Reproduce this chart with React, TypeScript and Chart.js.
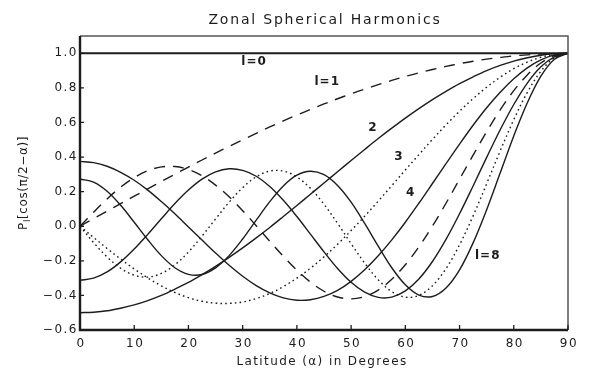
import { useEffect, useRef } from 'react';
import { Chart, registerables } from 'chart.js';

Chart.register(...registerables);

// Latitude samples (degrees)
const ALPHA = [0, 2.5, 5, 7.5, 10, 12.5, 15, 17.5, 20, 22.5, 25, 27.5, 30, 32.5, 35, 37.5, 40, 42.5, 45, 47.5, 50, 52.5, 55, 57.5, 60, 62.5, 65, 67.5, 70, 72.5, 75, 77.5, 80, 82.5, 85, 87.5, 90];

// l = 0 is flat, so two end points are enough
const ALPHA_L0 = [0, 90];
const P0 = [1, 1];

const P1 = [0, 0.044, 0.087, 0.131, 0.174, 0.216, 0.259, 0.301, 0.342, 0.383, 0.423, 0.462, 0.5, 0.537, 0.574, 0.609, 0.643, 0.676, 0.707, 0.737, 0.766, 0.793, 0.819, 0.843, 0.866, 0.887, 0.906, 0.924, 0.94, 0.954, 0.966, 0.976, 0.985, 0.991, 0.996, 0.999, 1];
const P2 = [-0.5, -0.497, -0.489, -0.474, -0.455, -0.43, -0.4, -0.364, -0.325, -0.28, -0.232, -0.18, -0.125, -0.067, -0.007, 0.056, 0.12, 0.185, 0.25, 0.315, 0.38, 0.444, 0.507, 0.567, 0.625, 0.68, 0.732, 0.78, 0.825, 0.864, 0.9, 0.93, 0.955, 0.974, 0.989, 0.997, 1];
const P3 = [0, -0.065, -0.129, -0.19, -0.247, -0.299, -0.345, -0.383, -0.413, -0.434, -0.445, -0.446, -0.438, -0.418, -0.389, -0.349, -0.3, -0.243, -0.177, -0.104, -0.025, 0.058, 0.145, 0.235, 0.325, 0.414, 0.502, 0.586, 0.665, 0.738, 0.804, 0.862, 0.911, 0.949, 0.977, 0.994, 1];
const P4 = [0.375, 0.368, 0.347, 0.312, 0.266, 0.209, 0.143, 0.072, -0.004, -0.08, -0.155, -0.226, -0.289, -0.343, -0.385, -0.414, -0.428, -0.425, -0.406, -0.371, -0.319, -0.252, -0.171, -0.079, 0.023, 0.133, 0.247, 0.362, 0.475, 0.584, 0.685, 0.775, 0.853, 0.916, 0.962, 0.991, 1];
const P5 = [0, 0.081, 0.158, 0.226, 0.281, 0.321, 0.343, 0.345, 0.328, 0.292, 0.238, 0.17, 0.09, 0.003, -0.087, -0.174, -0.254, -0.323, -0.376, -0.409, -0.42, -0.407, -0.369, -0.307, -0.223, -0.119, 0.001, 0.133, 0.272, 0.411, 0.547, 0.673, 0.784, 0.875, 0.944, 0.986, 1];
const P6 = [-0.3125, -0.3, -0.264, -0.206, -0.132, -0.047, 0.043, 0.131, 0.209, 0.272, 0.314, 0.332, 0.323, 0.289, 0.23, 0.15, 0.056, -0.046, -0.148, -0.244, -0.324, -0.381, -0.411, -0.41, -0.374, -0.305, -0.204, -0.076, 0.072, 0.233, 0.398, 0.558, 0.704, 0.828, 0.922, 0.98, 1];
const P7 = [0, -0.094, -0.178, -0.243, -0.283, -0.294, -0.273, -0.223, -0.149, -0.057, 0.042, 0.139, 0.223, 0.286, 0.319, 0.319, 0.285, 0.219, 0.127, 0.017, -0.101, -0.213, -0.31, -0.378, -0.41, -0.4, -0.344, -0.245, -0.107, 0.06, 0.246, 0.436, 0.616, 0.774, 0.896, 0.974, 1];
const P8 = [0.273, 0.255, 0.202, 0.121, 0.023, -0.078, -0.17, -0.24, -0.278, -0.279, -0.241, -0.17, -0.074, 0.035, 0.142, 0.233, 0.295, 0.318, 0.298, 0.236, 0.139, 0.016, -0.115, -0.24, -0.339, -0.398, -0.406, -0.357, -0.252, -0.096, 0.096, 0.309, 0.522, 0.714, 0.868, 0.966, 1];

const X_TICKS = [0, 10, 20, 30, 40, 50, 60, 70, 80, 90];
const Y_TICKS = [-0.6, -0.4, -0.2, 0, 0.2, 0.4, 0.6, 0.8, 1.0];

// Curve labels placed in data coordinates (latitude, value)
const LABEL_TEXT = ['l=0', 'l=1', '2', '3', '4', 'l=8'];
const LABEL_ALPHA = [32.1, 45.6, 54.0, 58.8, 61.0, 75.2];
const LABEL_VALUE = [0.948, 0.832, 0.571, 0.403, 0.194, -0.171];

const TITLE = 'Zonal Spherical Harmonics';
const X_TITLE = 'Latitude (\u03b1) in Degrees';

const INK = '#1c1c1c';
const FONT = '"DejaVu Sans", "Liberation Sans", sans-serif';

const toPoints = (xs: number[], ys: number[]) => xs.map((x, i) => ({ x, y: ys[i] }));

type Style = 'solid' | 'dashed' | 'dotted';

const dashFor = (style: Style): number[] => {
  if (style === 'dashed') return [11, 8];
  if (style === 'dotted') return [1.6, 3.2];
  return [];
};

const curve = (xs: number[], ys: number[], style: Style, width = 1.4) => ({
  data: toPoints(xs, ys),
  borderColor: INK,
  borderWidth: width,
  borderDash: dashFor(style),
  pointRadius: 0,
  tension: 0.35,
});

const yLabel = (v: number) => (v < 0 ? '\u2212' : '') + Math.abs(v).toFixed(1);

function text(ctx: CanvasRenderingContext2D, s: string, x: number, y: number, font: string, spacing: string, align: CanvasTextAlign = 'center') {
  ctx.font = font;
  (ctx as any).letterSpacing = spacing;
  ctx.textAlign = align;
  ctx.textBaseline = 'middle';
  ctx.fillText(s, x, y);
}

const decorations = {
  id: 'decorations',
  afterDraw(chart: any) {
    const { ctx, chartArea: a, scales } = chart;
    const xs = scales.x;
    const ys = scales.y;
    ctx.save();
    ctx.lineCap = 'butt';
    ctx.setLineDash([]);

    // thin top/right border
    ctx.strokeStyle = '#555';
    ctx.lineWidth = 1.5;
    ctx.beginPath();
    ctx.moveTo(a.left, a.top);
    ctx.lineTo(a.right, a.top);
    ctx.lineTo(a.right, a.bottom);
    ctx.stroke();

    // heavy left/bottom axes
    ctx.strokeStyle = INK;
    ctx.lineWidth = 2.4;
    ctx.beginPath();
    ctx.moveTo(a.left, a.top);
    ctx.lineTo(a.left, a.bottom);
    ctx.lineTo(a.right, a.bottom);
    ctx.stroke();

    // inward ticks
    ctx.lineWidth = 1.3;
    ctx.beginPath();
    X_TICKS.forEach((v) => {
      const px = xs.getPixelForValue(v);
      ctx.moveTo(px, a.bottom);
      ctx.lineTo(px, a.bottom - 5);
    });
    Y_TICKS.forEach((v) => {
      const py = ys.getPixelForValue(v);
      ctx.moveTo(a.left, py);
      ctx.lineTo(a.left + 4, py);
    });
    ctx.stroke();

    ctx.fillStyle = INK;

    // tick labels
    const tickFont = `12px ${FONT}`;
    X_TICKS.forEach((v) => {
      text(ctx, String(v), xs.getPixelForValue(v) + 1, a.bottom + 14, tickFont, '1.5px');
    });
    Y_TICKS.forEach((v) => {
      text(ctx, yLabel(v), a.left - 2, ys.getPixelForValue(v), tickFont, '1.5px', 'right');
    });

    // title
    text(ctx, TITLE, (a.left + a.right) / 2 + 1, 20, `14px ${FONT}`, '1.8px');
    // x axis title
    text(ctx, X_TITLE, (a.left + a.right) / 2 - 2, 362, `12px ${FONT}`, '1.4px');

    // y axis title, rotated
    ctx.save();
    ctx.translate(24, 183);
    ctx.rotate(-Math.PI / 2);
    const big = `12px ${FONT}`;
    const small = `9px ${FONT}`;
    const sp = '0.6px';
    (ctx as any).letterSpacing = sp;
    ctx.font = big;
    const wP = ctx.measureText('P').width;
    ctx.font = small;
    const wl = ctx.measureText('l').width;
    ctx.font = big;
    const rest = '[cos(\u03c0/2\u2212\u03b1)]';
    const wr = ctx.measureText(rest).width;
    let cx = -(wP + wl + wr) / 2;
    text(ctx, 'P', cx, 0, big, sp, 'left');
    cx += wP;
    text(ctx, 'l', cx, 4, small, sp, 'left');
    cx += wl;
    text(ctx, rest, cx, 0, big, sp, 'left');
    ctx.restore();

    // curve labels
    LABEL_TEXT.forEach((s, i) => {
      const px = xs.getPixelForValue(LABEL_ALPHA[i]);
      const py = ys.getPixelForValue(LABEL_VALUE[i]);
      text(ctx, s, px, py, `bold 12px ${FONT}`, '1px');
    });

    (ctx as any).letterSpacing = '0px';
    ctx.restore();
  },
};

export default function App() {
  const ref = useRef<HTMLCanvasElement | null>(null);

  useEffect(() => {
    document.body.style.margin = '0';
    const canvas = ref.current;
    if (!canvas) return;

    const chart = new Chart(canvas, {
      type: 'line',
      data: {
        datasets: [
          curve(ALPHA_L0, P0, 'solid', 2),
          curve(ALPHA, P1, 'dashed'),
          curve(ALPHA, P2, 'solid'),
          curve(ALPHA, P3, 'dotted'),
          curve(ALPHA, P4, 'solid'),
          curve(ALPHA, P5, 'dashed'),
          curve(ALPHA, P6, 'solid'),
          curve(ALPHA, P7, 'dotted'),
          curve(ALPHA, P8, 'solid'),
        ] as any,
      },
      options: {
        responsive: false,
        animation: false,
        devicePixelRatio: 1,
        layout: { padding: { top: 36, right: 21, left: 0, bottom: 0 } },
        plugins: {
          legend: { display: false },
          tooltip: { enabled: false },
          title: { display: false },
        },
        scales: {
          x: {
            type: 'linear',
            min: 0,
            max: 90,
            grid: { display: false, drawTicks: false },
            border: { display: false },
            ticks: { display: false },
            afterFit: (s: any) => {
              s.height = 43;
            },
            afterBuildTicks: (s: any) => {
              s.ticks = X_TICKS.map((v) => ({ value: v }));
            },
          },
          y: {
            type: 'linear',
            min: -0.6,
            max: 1.1,
            grid: { display: false, drawTicks: false },
            border: { display: false },
            ticks: { display: false },
            afterFit: (s: any) => {
              s.width = 80;
            },
            afterBuildTicks: (s: any) => {
              s.ticks = Y_TICKS.map((v) => ({ value: v }));
            },
          },
        },
      },
      plugins: [decorations],
    });

    return () => chart.destroy();
  }, []);

  return (
    <div style={{ width: 589, height: 373 }}>
      <canvas ref={ref} width={589} height={373} style={{ display: 'block' }} />
    </div>
  );
}
